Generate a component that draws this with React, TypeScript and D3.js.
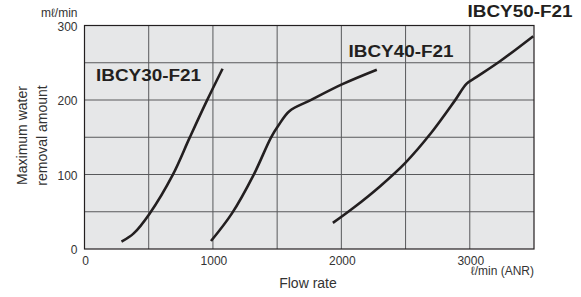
import * as d3 from "d3";

// series (flow in l/min, value in ml/min)
const flow30 = [288, 383, 508, 687, 819, 954, 1075];
const value30 = [9.8, 21, 47.8, 99.5, 149.5, 199.5, 242];

const flow40 = [985, 1148, 1317, 1452, 1511, 1595, 1757, 2004, 2276];
const value40 = [10.7, 47.8, 99.5, 149.6, 166, 185, 199.5, 221, 240.7];

const flow50 = [1934, 2100, 2300, 2500, 2700, 2885, 2976, 3054, 3235, 3494];
const value50 = [35, 56, 84, 116, 156, 199.5, 222, 231, 252, 285.7];

const xTicks = [0, 1000, 2000, 3000];
const yTicks = [0, 100, 200, 300];
const xGrid = [500, 1000, 1500, 2000, 2500, 3000];
const yGrid = [50, 100, 150, 200, 250];

const seriesNames = ["IBCY30-F21", "IBCY40-F21", "IBCY50-F21"];

const App = () => {
    const width = 581;
    const height = 297;
    const margin = { top: 25.5, bottom: 48, left: 84.5, right: 47 };

    const x = d3.scaleLinear().domain([0, 3500]).range([margin.left, width - margin.right]);
    const y = d3.scaleLinear().domain([0, 300]).range([height - margin.bottom, margin.top]);

    const line = d3
        .line<[number, number]>()
        .x(d => x(d[0]))
        .y(d => y(d[1]))
        .curve(d3.curveCatmullRom.alpha(0.5));

    const series = [
        flow30.map((f, i) => [f, value30[i]] as [number, number]),
        flow40.map((f, i) => [f, value40[i]] as [number, number]),
        flow50.map((f, i) => [f, value50[i]] as [number, number]),
    ];

    // label positions (left x, baseline y)
    const labelPos = [
        [96, 80.5],
        [348.5, 56.5],
        [467.5, 17.3],
    ];

    const font = "'Liberation Sans', Arial, Helvetica, sans-serif";
    const textColor = "#231f20";

    return (
        <svg
            width={width}
            height={height}
            style={{ position: "absolute", left: 0, top: 0, background: "#fff" }}
            fontFamily={font}
        >
            <rect
                x={x(0)}
                y={y(300)}
                width={x(3500) - x(0)}
                height={y(0) - y(300)}
                fill="#e6e7e8"
            />
            {xGrid.map(v => (
                <line key={"gx" + v} x1={x(v)} x2={x(v)} y1={y(0)} y2={y(300)} stroke="#58595b" strokeWidth={1} />
            ))}
            {yGrid.map(v => (
                <line key={"gy" + v} x1={x(0)} x2={x(3500)} y1={y(v)} y2={y(v)} stroke="#58595b" strokeWidth={1} />
            ))}
            <rect
                x={x(0)}
                y={y(300)}
                width={x(3500) - x(0)}
                height={y(0) - y(300)}
                fill="none"
                stroke="#231f20"
                strokeWidth={1.2}
            />

            {series.map((s, i) => (
                <path key={"s" + i} d={line(s) || ""} fill="none" stroke="#231f20" strokeWidth={2.6} />
            ))}

            {seriesNames.map((n, i) => (
                <text
                    key={n}
                    x={labelPos[i][0]}
                    y={labelPos[i][1]}
                    fontSize={16}
                    fontWeight="bold"
                    fill={textColor}
                    textLength={105}
                    lengthAdjust="spacingAndGlyphs"
                >
                    {n}
                </text>
            ))}

            {/* y axis ticks */}
            {yTicks.map(v => (
                <text key={"ty" + v} x={77.5} y={y(v) + 5} fontSize={12} textAnchor="end" fill="#333">
                    {v}
                </text>
            ))}
            <text x={77.5} y={16.5} fontSize={12} textAnchor="end" fill="#333">
                mℓ/min
            </text>

            {/* x axis ticks */}
            {xTicks.map(v => (
                <text key={"tx" + v} x={x(v) + 1} y={264.5} fontSize={12} textAnchor="middle" fill="#333">
                    {v}
                </text>
            ))}
            <text x={534} y={275} fontSize={12} textAnchor="end" fill="#333">
                ℓ/min (ANR)
            </text>
            <text x={308} y={287.5} fontSize={14} textAnchor="middle" fill="#333">
                Flow rate
            </text>

            {/* y axis title */}
            <g transform="translate(0,135.5) rotate(-90)">
                <text x={0} y={27} fontSize={14} textAnchor="middle" fill="#333">
                    Maximum water
                </text>
                <text x={0} y={46.5} fontSize={14} textAnchor="middle" fill="#333">
                    removal amount
                </text>
            </g>
        </svg>
    );
};

export default App;
